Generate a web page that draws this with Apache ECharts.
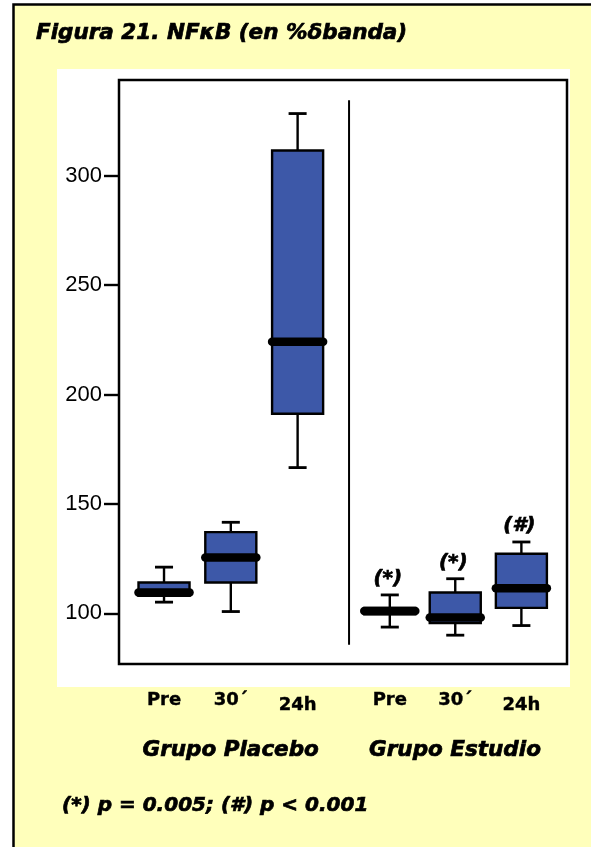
<!DOCTYPE html>
<html>
<head>
<meta charset="utf-8">
<script src="https://cdn.jsdelivr.net/npm/echarts@6/dist/echarts.min.js"></script>
<style>
  html, body { margin: 0; padding: 0; background: #ffffff; }
  #chart { width: 591px; height: 847px; }
</style>
</head>
<body>
<div id="chart"></div>
<script>
// NF-kB expression (% band) by group and sampling time
const categories = ['Pre', '30´', '24h', 'Pre', '30´', '24h'];
const groups = ['Grupo Placebo', 'Grupo Estudio'];
// position of each box along the horizontal value axis (two groups of three)
const xPositions = [1, 2, 3, 4.38, 5.36, 6.35];
const dividerX = 3.77;
const dividerSpan = [334.5, 85.6];

// [min, Q1, median, Q3, max]
const placeboPre  = [105.1, 108.0, 109.5, 114.1, 121.1];
const placebo30   = [100.8, 114.1, 125.5, 137.1, 141.6];
const placebo24   = [166.6, 191.2, 224.1, 311.5, 328.4];
const estudioPre  = [93.7, 99.5, 101.0, 102.5, 108.4];
const estudio30   = [90.0, 95.5, 98.1, 109.5, 115.8];
const estudio24   = [94.4, 102.5, 111.5, 127.2, 132.6];

const significance = ['', '', '', '(*)', '(*)', '(#)'];
const yTicks = [100, 150, 200, 250, 300];
const footnote = '(*) p = 0.005; (#) p < 0.001';
const titleText = 'Figura 21. NFκB (en %δbanda)';

const boxStats = [placeboPre, placebo30, placebo24, estudioPre, estudio30, estudio24];
const boxData = boxStats.map((s, i) => [xPositions[i]].concat(s));

const BOX_FILL = '#3d58a8';
const INK = '#000000';
const BOX_HALF = 0.382;
const CAP_HALF = 0.135;

// heavy italic caption text
function caption(size) {
  return {
    font: 'italic bold ' + size + 'px "DejaVu Sans"',
    fill: INK, stroke: INK, lineWidth: 0.7
  };
}

function renderBox(params, api) {
  const x = api.value(0);
  const lo = api.value(1), q1 = api.value(2), med = api.value(3), q3 = api.value(4), hi = api.value(5);
  const tl = api.coord([x - BOX_HALF, q3]);
  const br = api.coord([x + BOX_HALF, q1]);
  const cTop = api.coord([x, q3]);
  const cHi = api.coord([x, hi]);
  const cBot = api.coord([x, q1]);
  const cLo = api.coord([x, lo]);
  const capL = api.coord([x - CAP_HALF, hi])[0];
  const capR = api.coord([x + CAP_HALF, hi])[0];
  const medL = api.coord([x - BOX_HALF, med]);
  const medR = api.coord([x + BOX_HALF, med]);
  const lineStyle = { stroke: INK, lineWidth: 2.4, fill: null };
  const children = [
    { type: 'line', shape: { x1: cTop[0], y1: cTop[1], x2: cHi[0], y2: cHi[1] }, style: lineStyle },
    { type: 'line', shape: { x1: cBot[0], y1: cBot[1], x2: cLo[0], y2: cLo[1] }, style: lineStyle },
    { type: 'line', shape: { x1: capL, y1: cHi[1], x2: capR, y2: cHi[1] }, style: { stroke: INK, lineWidth: 2.8 } },
    { type: 'line', shape: { x1: capL, y1: cLo[1], x2: capR, y2: cLo[1] }, style: { stroke: INK, lineWidth: 2.8 } },
    { type: 'rect', shape: { x: tl[0], y: tl[1], width: br[0] - tl[0], height: br[1] - tl[1] },
      style: { fill: BOX_FILL, stroke: INK, lineWidth: 2.4 } },
    { type: 'line', shape: { x1: medL[0], y1: medL[1], x2: medR[0], y2: medR[1] },
      style: { stroke: INK, lineWidth: 8.5, lineCap: 'round' } }
  ];
  const mark = significance[params.dataIndex];
  if (mark) {
    children.push({
      type: 'text',
      style: Object.assign(caption(20), {
        text: mark, x: cHi[0] - 2, y: cHi[1] - 16,
        align: 'center', verticalAlign: 'middle'
      })
    });
  }
  return { type: 'group', children: children };
}

const chart = echarts.init(document.getElementById('chart'), null, { renderer: 'canvas' });

chart.setOption({
  backgroundColor: '#ffffff',
  animation: false,
  grid: {
    left: 119, right: 24, top: 80, bottom: 183,
    show: true, borderColor: INK, borderWidth: 2.5, backgroundColor: 'transparent',
    z: 5
  },
  xAxis: {
    type: 'value',
    min: 0.326, max: 7.033,
    splitLine: { show: false },
    axisLine: { show: false },
    axisTick: { show: false },
    axisLabel: {
      customValues: xPositions,
      margin: 27,
      formatter: function (v) {
        const i = xPositions.indexOf(v);
        if (i < 0) return '';
        return categories[i] === '24h' ? '{low|' + categories[i] + '}' : '{n|' + categories[i] + '}';
      },
      rich: {
        n: { fontFamily: 'DejaVu Sans', fontWeight: 'bold', fontSize: 18, color: INK,
             textBorderColor: INK, textBorderWidth: 0.4 },
        low: { fontFamily: 'DejaVu Sans', fontWeight: 'bold', fontSize: 18, color: INK,
               textBorderColor: INK, textBorderWidth: 0.4, padding: [5, 0, 0, 0] }
      }
    }
  },
  yAxis: {
    type: 'value',
    min: 76.83, max: 343.74,
    splitLine: { show: false },
    axisLine: { show: false },
    axisTick: {
      show: true, customValues: yTicks, length: 15,
      lineStyle: { color: INK, width: 2.4 }
    },
    axisLabel: {
      customValues: yTicks, margin: 17,
      fontFamily: 'Liberation Sans', fontSize: 22, color: '#000'
    }
  },
  graphic: [
    { type: 'rect', z: -10, silent: true,
      shape: { x: 13.5, y: 4.5, width: 700, height: 1000 },
      style: { fill: '#ffffbb', stroke: INK, lineWidth: 2.5 } },
    { type: 'rect', z: -9, silent: true,
      shape: { x: 57, y: 69, width: 513, height: 618 },
      style: { fill: '#ffffff' } },
    { type: 'text', x: 36, y: 33,
      style: Object.assign(caption(21.5), { text: titleText, align: 'left', verticalAlign: 'middle' }) },
    { type: 'text', x: 230.7, y: 750,
      style: Object.assign(caption(21.5), { text: groups[0], align: 'center', verticalAlign: 'middle' }) },
    { type: 'text', x: 455, y: 750,
      style: Object.assign(caption(21.5), { text: groups[1], align: 'center', verticalAlign: 'middle' }) },
    { type: 'text', x: 62, y: 806,
      style: Object.assign(caption(20), { text: footnote, align: 'left', verticalAlign: 'middle' }) }
  ],
  series: [
    {
      type: 'line',
      data: [[dividerX, dividerSpan[0]], [dividerX, dividerSpan[1]]],
      showSymbol: false, symbol: 'none',
      lineStyle: { color: INK, width: 2 },
      silent: true, z: 2
    },
    {
      type: 'custom',
      renderItem: renderBox,
      data: boxData,
      encode: { x: 0, y: [1, 2, 3, 4, 5] },
      clip: false,
      z: 3
    }
  ]
});
</script>
</body>
</html>
